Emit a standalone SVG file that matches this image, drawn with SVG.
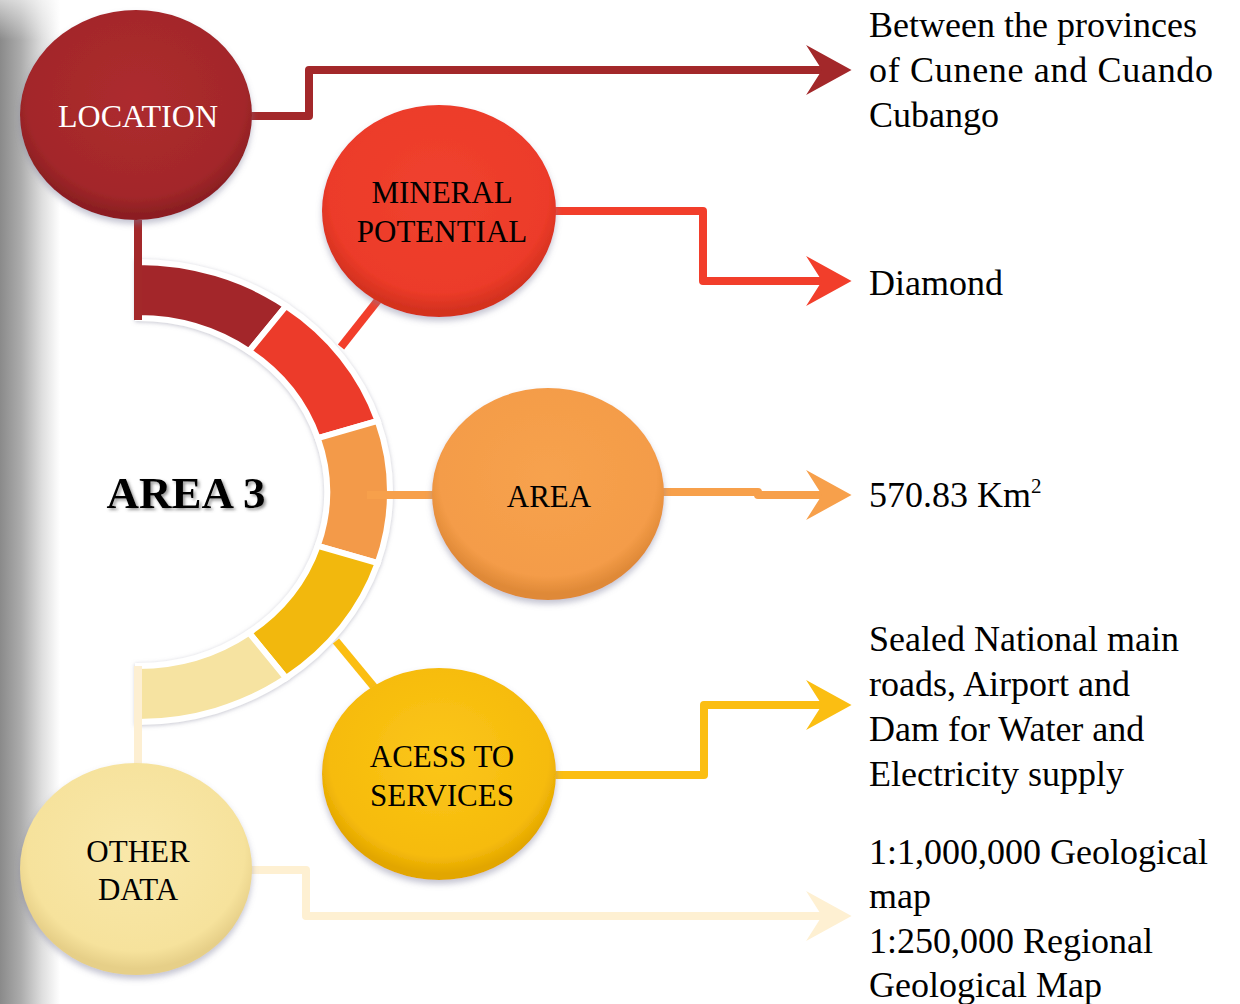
<svg xmlns="http://www.w3.org/2000/svg" width="1240" height="1004" viewBox="0 0 1240 1004">
<style>
.lbl{font-family:"Liberation Serif","Times New Roman",serif;font-size:31px;text-anchor:middle;fill:#000}
.txt{font-family:"Liberation Serif","Times New Roman",serif;font-size:36px;fill:#000}
.con{fill:none;stroke-width:8;stroke-linejoin:round;stroke-linecap:butt}
.seg{stroke:#ffffff;stroke-width:6;stroke-linejoin:miter}
</style>
<defs>
<linearGradient id="edge" x1="0" y1="0" x2="1" y2="0">
<stop offset="0" stop-color="#8a8a8a"/>
<stop offset="0.35" stop-color="#acacac"/>
<stop offset="0.7" stop-color="#dedede"/>
<stop offset="1" stop-color="#ffffff"/>
</linearGradient>
<linearGradient id="edgeTop" x1="0" y1="0" x2="0" y2="1">
<stop offset="0" stop-color="#ffffff" stop-opacity="0.6"/>
<stop offset="1" stop-color="#ffffff" stop-opacity="0"/>
</linearGradient>
<radialGradient id="gLoc" cx="50%" cy="42%" r="55%">
<stop offset="0" stop-color="#ad2c2e"/><stop offset="0.85" stop-color="#a3272a"/><stop offset="1" stop-color="#8c1f22"/>
</radialGradient>
<radialGradient id="gMin" cx="50%" cy="42%" r="55%">
<stop offset="0" stop-color="#f0422f"/><stop offset="0.85" stop-color="#ec3b29"/><stop offset="1" stop-color="#d4321f"/>
</radialGradient>
<radialGradient id="gArea" cx="50%" cy="42%" r="55%">
<stop offset="0" stop-color="#f7a24e"/><stop offset="0.85" stop-color="#f49c48"/><stop offset="1" stop-color="#df8937"/>
</radialGradient>
<radialGradient id="gAcc" cx="50%" cy="42%" r="55%">
<stop offset="0" stop-color="#fbc61a"/><stop offset="0.85" stop-color="#f6bb0b"/><stop offset="1" stop-color="#e2a600"/>
</radialGradient>
<radialGradient id="gOth" cx="50%" cy="42%" r="55%">
<stop offset="0" stop-color="#f9e8aa"/><stop offset="0.85" stop-color="#f6e29c"/><stop offset="1" stop-color="#e6cf88"/>
</radialGradient>
<filter id="sh" x="-10%" y="-10%" width="120%" height="125%">
<feDropShadow dx="0" dy="4" stdDeviation="3" flood-color="#7a7a9a" flood-opacity="0.45"/>
</filter>
<filter id="ringsh" x="-10%" y="-10%" width="120%" height="120%">
<feDropShadow dx="0" dy="1" stdDeviation="2" flood-color="#8a8aa0" flood-opacity="0.5"/>
</filter>
<filter id="tsh" x="-10%" y="-20%" width="130%" height="150%">
<feDropShadow dx="2" dy="2" stdDeviation="1.5" flood-color="#555555" flood-opacity="0.6"/>
</filter>
<marker id="ah" markerUnits="userSpaceOnUse" markerWidth="50" markerHeight="50" viewBox="0 0 40 44" refX="14" refY="22" orient="auto">
<path d="M40,22 L0,0 L14,22 L0,44 Z" fill="context-stroke"/>
</marker>
</defs>

<rect x="0" y="0" width="1240" height="1004" fill="#ffffff"/>
<rect x="0" y="0" width="60" height="1004" fill="url(#edge)"/>
<rect x="0" y="0" width="60" height="40" fill="url(#edgeTop)"/>

<g id="ring" filter="url(#ringsh)">
<path class="seg" fill="#a3272a" d="M138,262 A252,230 0 0 1 286.1,305.9 L249.1,351.2 A189,174 0 0 0 138,318 Z"/>
<path class="seg" fill="#ec3b29" d="M286.1,305.9 A252,230 0 0 1 377.7,420.9 L317.8,438.2 A189,174 0 0 0 249.1,351.2 Z"/>
<path class="seg" fill="#f39a49" d="M377.7,420.9 A252,230 0 0 1 377.7,563.1 L317.8,545.8 A189,174 0 0 0 317.8,438.2 Z"/>
<path class="seg" fill="#f2b80c" d="M377.7,563.1 A252,230 0 0 1 286.1,678.1 L249.1,632.8 A189,174 0 0 0 317.8,545.8 Z"/>
<path class="seg" fill="#f6e3a1" d="M286.1,678.1 A252,230 0 0 1 138,722 L138,666 A189,174 0 0 0 249.1,632.8 Z"/>
</g>

<g id="connectors">
<path class="con" stroke="#a3282a" d="M138,220 L138,320"/>
<path class="con" stroke="#a3282a" d="M250,116 L309,116 L309,70 L822,70" marker-end="url(#ah)"/>
<path class="con" stroke="#f23e2b" d="M341,347 L386,290"/>
<path class="con" stroke="#f23e2b" d="M554,211 L703,211 L703,281 L822,281" marker-end="url(#ah)"/>
<path class="con" stroke="#f7a04b" d="M367,495 L436,495"/>
<path class="con" stroke="#f7a04b" d="M662,492 L758,492 L758,495 L822,495" marker-end="url(#ah)"/>
<path class="con" stroke="#fbbe12" d="M336,641 L379,693"/>
<path class="con" stroke="#fbbe12" d="M554,775 L704,775 L704,705 L822,705" marker-end="url(#ah)"/>
<path class="con" stroke="#fdefd2" d="M138,666 L138,766"/>
<path class="con" stroke="#fef0d2" d="M250,870 L306,870 L306,916 L822,916" marker-end="url(#ah)"/>
</g>

<g id="area3">
<text x="186" y="508" font-family="'Liberation Serif','Times New Roman',serif" font-size="45" font-weight="bold" text-anchor="middle" fill="#000" filter="url(#tsh)">AREA 3</text>
</g>

<g id="location">
<ellipse cx="136" cy="115" rx="116" ry="105" fill="url(#gLoc)" filter="url(#sh)"/>
<text class="lbl" x="138" y="127" style="fill:#ffffff;font-size:32px">LOCATION</text>
</g>

<g id="mineral">
<ellipse cx="439" cy="211" rx="117" ry="106" fill="url(#gMin)" filter="url(#sh)"/>
<text class="lbl" x="442" y="203">MINERAL</text>
<text class="lbl" x="442" y="242">POTENTIAL</text>
</g>

<g id="area">
<ellipse cx="548" cy="494" rx="116" ry="106" fill="url(#gArea)" filter="url(#sh)"/>
<text class="lbl" x="549" y="507">AREA</text>
</g>

<g id="access">
<ellipse cx="439" cy="774" rx="117" ry="106" fill="url(#gAcc)" filter="url(#sh)"/>
<text class="lbl" x="442" y="767">ACESS TO</text>
<text class="lbl" x="442" y="806">SERVICES</text>
</g>

<g id="other">
<ellipse cx="136" cy="869" rx="116" ry="106" fill="url(#gOth)" filter="url(#sh)"/>
<text class="lbl" x="138" y="862">OTHER</text>
<text class="lbl" x="138" y="900">DATA</text>
</g>

<g id="t-location">
<text class="txt" x="869" y="37">Between the provinces</text>
<text class="txt" x="869" y="82" textLength="344" lengthAdjust="spacing">of Cunene and Cuando</text>
<text class="txt" x="869" y="127">Cubango</text>
</g>
<g id="t-mineral">
<text class="txt" x="869" y="295">Diamond</text>
</g>
<g id="t-area">
<text class="txt" x="869" y="507">570.83 Km<tspan dy="-14" font-size="21">2</tspan></text>
</g>
<g id="t-access">
<text class="txt" x="869" y="651">Sealed National main</text>
<text class="txt" x="869" y="696">roads, Airport and</text>
<text class="txt" x="869" y="741">Dam for Water and</text>
<text class="txt" x="869" y="786">Electricity supply</text>
</g>
<g id="t-other">
<text class="txt" x="869" y="864">1:1,000,000 Geological</text>
<text class="txt" x="869" y="908">map</text>
<text class="txt" x="869" y="953">1:250,000 Regional</text>
<text class="txt" x="869" y="997">Geological Map</text>
</g>
</svg>
